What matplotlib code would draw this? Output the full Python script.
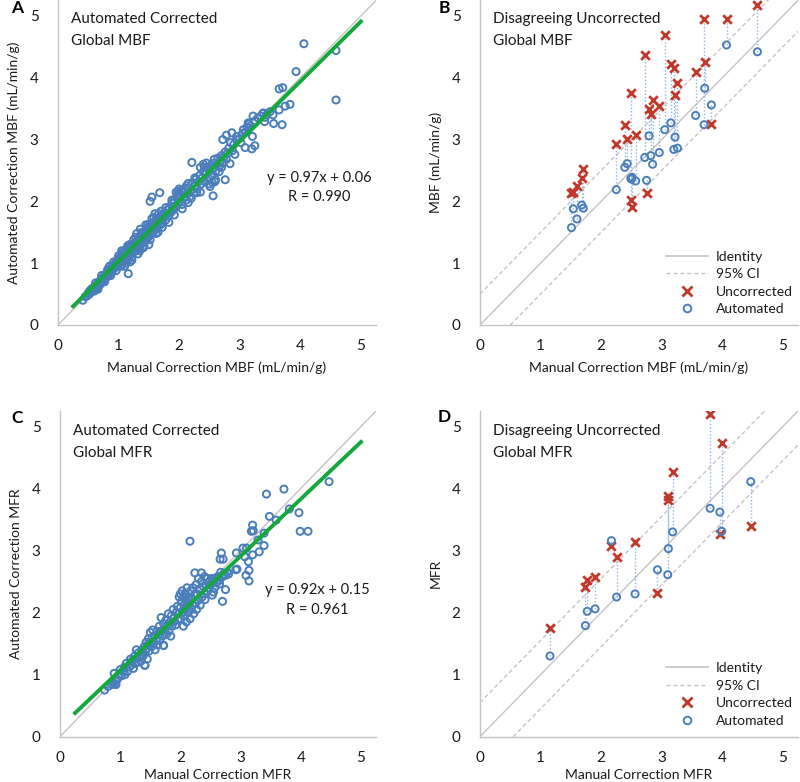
import matplotlib
matplotlib.use('Agg')
import matplotlib.pyplot as plt
from matplotlib.lines import Line2D

plt.rcParams['font.family'] = ['Lato', 'DejaVu Sans']

# panel A: automated vs manual global MBF
mbf_manual = [0.41, 0.45, 0.48, 0.50, 0.52, 0.53, 0.55, 0.56, 0.58, 0.60, 0.60, 0.62, 0.63, 0.65, 0.66,
              0.68, 0.69, 0.70, 0.71, 0.72, 0.74, 0.75, 0.76, 0.78, 0.79, 0.80, 0.81, 0.83, 0.84, 0.85,
              0.86, 0.88, 0.89, 0.90, 0.91, 0.92, 0.93, 0.95, 0.96, 0.97, 0.98, 0.99, 1.00, 1.01, 1.02,
              1.03, 1.04, 1.05, 1.06, 1.07, 1.08, 1.09, 1.10, 1.11, 1.12, 1.13, 1.14, 1.15, 1.16, 1.17,
              1.18, 1.19, 1.20, 1.21, 1.22, 1.23, 1.24, 1.25, 1.26, 1.27, 1.28, 1.29, 1.30, 1.31, 1.32,
              1.33, 1.34, 1.35, 1.36, 1.37, 1.38, 1.39, 1.40, 1.41, 1.42, 1.43, 1.44, 1.45, 1.46, 1.47,
              1.48, 1.49, 1.50, 1.51, 1.52, 1.53, 1.54, 1.55, 1.56, 1.57, 1.58, 1.60, 1.61, 1.62, 1.63,
              1.64, 1.65, 1.66, 1.68, 1.69, 1.70, 1.72, 1.73, 1.75, 1.76, 1.78, 1.79, 1.80, 1.41, 1.35,
              1.25, 1.15, 1.30, 1.45, 1.55, 1.60, 1.70,
              1.82, 1.84, 1.86, 1.88, 1.90, 1.92, 1.94, 1.96, 1.98, 2.00, 2.02, 2.04, 2.05, 2.07, 2.08,
              2.10, 2.12, 2.14, 2.16, 2.18, 2.20, 2.22, 2.24, 2.26, 2.28, 2.30, 2.32, 2.34, 2.36, 2.38,
              2.40, 2.42, 2.44, 2.46, 2.48, 2.50, 2.52, 2.54, 2.56, 2.58, 2.60, 2.62, 2.64, 2.66, 2.68,
              2.70, 2.72, 2.74, 2.76, 2.78, 2.80, 2.40, 2.45, 2.35, 2.55, 2.60, 2.00, 1.95, 2.15, 2.70,
              2.82, 2.85, 2.88, 2.90, 2.95, 3.00, 3.02, 3.05, 3.10, 3.12, 3.15, 3.18, 3.25, 3.30, 3.35,
              3.38, 3.42, 3.45, 3.50,
              4.06, 4.59, 4.59, 3.93, 3.65, 3.71, 3.75, 3.83, 3.70, 3.56, 3.65, 3.55, 3.39, 3.41, 3.22,
              3.14, 3.06, 3.21, 3.25, 3.20, 3.09, 2.87, 2.78, 2.72, 2.95, 2.92, 2.84, 2.76, 2.56, 2.59,
              2.21, 2.51, 2.15, 2.29, 2.10, 1.93, 1.68, 1.52, 1.55, 1.63, 1.16, 1.19]
mbf_auto = [0.40, 0.46, 0.47, 0.52, 0.50, 0.56, 0.54, 0.59, 0.57, 0.60, 0.55, 0.63, 0.58, 0.66, 0.62,
            0.70, 0.65, 0.72, 0.68, 0.75, 0.71, 0.78, 0.74, 0.80, 0.76, 0.84, 0.79, 0.86, 0.81, 0.90,
            0.85, 0.92, 0.87, 0.95, 0.90, 0.97, 0.92, 1.00, 0.94, 1.02, 0.97, 1.05, 0.99, 1.07, 1.01,
            1.10, 1.04, 0.98, 1.12, 1.06, 1.15, 1.03, 1.10, 1.18, 1.08, 1.13, 1.22, 1.05, 1.16, 1.25,
            1.12, 1.20, 1.15, 1.28, 1.10, 1.22, 1.30, 1.18, 1.25, 1.33, 1.20, 1.28, 1.36, 1.22, 1.31,
            1.40, 1.27, 1.35, 1.42, 1.30, 1.38, 1.46, 1.33, 1.42, 1.50, 1.36, 1.45, 1.53, 1.38, 1.47,
            1.56, 1.42, 1.50, 1.60, 1.46, 1.53, 1.62, 1.48, 1.57, 1.66, 1.52, 1.60, 1.68, 1.55, 1.64,
            1.72, 1.58, 1.66, 1.75, 1.62, 1.70, 1.78, 1.65, 1.74, 1.82, 1.70, 1.79, 1.86, 1.25, 1.20,
            1.38, 1.28, 1.48, 1.62, 1.72, 1.80, 1.84,
            1.76, 1.90, 1.82, 1.97, 1.86, 2.02, 1.90, 2.08, 1.96, 2.12, 2.00, 2.18, 1.95, 2.15, 2.05,
            2.20, 2.02, 2.12, 2.22, 2.08, 2.18, 2.30, 2.14, 2.25, 2.36, 2.20, 2.32, 2.42, 2.28, 2.38,
            2.48, 2.32, 2.44, 2.55, 2.38, 2.50, 2.58, 2.42, 2.54, 2.62, 2.48, 2.60, 2.70, 2.56, 2.66,
            2.74, 2.62, 2.72, 2.80, 2.68, 2.78, 2.60, 2.62, 2.55, 2.30, 2.35, 2.20, 2.15, 1.98, 2.55,
            2.86, 2.95, 2.82, 2.92, 3.00, 3.02, 2.95, 3.10, 3.12, 3.20, 3.25, 3.22, 3.30, 3.35, 3.38,
            3.42, 3.36, 3.40, 3.45,
            4.55, 4.44, 3.64, 4.10, 3.82, 3.84, 3.54, 3.57, 3.24, 3.26, 3.48, 3.40, 3.43, 3.29, 3.38,
            3.27, 3.16, 3.05, 2.90, 2.85, 2.87, 3.11, 3.07, 3.00, 3.05, 2.76, 2.61, 2.35, 2.09, 2.32,
            2.63, 2.24, 2.29, 2.14, 2.08, 1.92, 2.14, 2.00, 2.07, 1.58, 0.83, 1.02]
# extra points that thicken the dense band in panel A
mbf_manual_band = [0.62, 0.66, 0.72, 0.77, 0.82, 0.87, 0.92, 0.96, 1.00, 1.04, 1.08, 1.12, 1.18, 1.22,
                   1.28, 1.32, 1.38, 1.42, 1.48, 1.52, 1.58, 1.62, 1.66, 1.72, 1.78, 1.83, 1.88, 1.92,
                   1.98, 2.05, 2.12, 2.20, 2.26, 2.35, 2.42, 2.50, 2.58, 2.66, 1.05, 1.10, 0.85, 1.36,
                   1.50, 1.65]
mbf_auto_band = [0.68, 0.58, 0.80, 0.70, 0.90, 0.80, 1.02, 0.88, 1.12, 0.95, 1.20, 1.00, 1.30, 1.05,
                 1.42, 1.15, 1.50, 1.28, 1.62, 1.38, 1.74, 1.48, 1.80, 1.58, 1.90, 1.66, 2.02, 1.78,
                 2.16, 1.88, 2.25, 2.05, 2.38, 2.15, 2.55, 2.28, 2.68, 2.48, 1.20, 0.95, 0.95, 1.55,
                 1.30, 1.50]

# panel B: disagreeing uncorrected MBF
b_manual = [1.51, 1.54, 1.60, 1.68, 1.705, 2.25, 2.39, 2.43, 2.49, 2.50, 2.51, 2.57, 2.72, 2.75,
            2.79, 2.82, 2.85, 2.96, 3.05, 3.15, 3.20, 3.22, 3.26, 3.56, 3.70, 3.71, 3.82, 4.07, 4.58]
b_uncorr = [2.13, 2.15, 2.25, 2.38, 2.52, 2.93, 3.24, 3.01, 3.75, 2.02, 1.91, 3.08, 4.37, 2.13,
            3.49, 3.41, 3.64, 3.54, 4.69, 4.22, 4.16, 3.72, 3.91, 4.10, 4.95, 4.26, 3.25, 4.95, 5.18]
b_auto = [1.575, 1.88, 1.715, 1.94, 1.89, 2.19, 2.55, 2.61, 2.37, 2.36, 2.39, 2.33, 2.71, 2.34,
          3.06, 2.74, 2.60, 2.79, 3.16, 3.27, 2.84, 3.04, 2.86, 3.39, 3.24, 3.83, 3.56, 4.53, 4.42]

# panel C: automated vs manual global MFR
mfr_manual = [0.74, 0.80, 0.86, 0.88, 0.90, 0.92, 0.93, 0.90, 0.95, 0.98, 1.00, 1.02, 1.05, 1.07, 1.08,
              1.10, 1.12, 1.15, 1.17, 1.18, 1.20, 1.22, 1.24, 1.25, 1.27, 1.28, 1.30, 1.30, 1.32, 1.34,
              1.35, 1.36, 1.38, 1.40, 1.41, 1.42, 1.43, 1.44, 1.45, 1.46, 1.47, 1.48, 1.50, 1.50, 1.52,
              1.53, 1.54, 1.55, 1.57, 1.58, 1.60, 1.61, 1.62, 1.64, 1.65, 1.66, 1.68, 1.68, 1.70, 1.72,
              1.72, 1.74, 1.76, 1.77, 1.79, 1.80, 1.81, 1.83, 1.84, 1.85, 1.86, 1.88, 1.89, 1.90, 1.92,
              1.93, 1.95, 1.96, 1.98, 1.98, 2.00, 2.00, 2.01, 2.02, 2.03, 2.04, 2.05, 2.05, 2.06, 2.07,
              2.08, 2.08, 2.10, 2.10, 2.11, 2.12, 2.13, 2.14, 2.15, 2.16, 2.17, 2.18, 2.19, 2.20, 2.21,
              2.22, 2.23, 2.25, 2.26, 2.27, 2.28, 2.30, 2.30, 2.32, 2.33, 2.35, 2.36, 2.38, 2.40, 2.40,
              2.42, 2.44, 2.45, 2.47, 2.48, 2.50, 2.52, 2.53, 2.55, 2.57, 2.58, 2.60, 2.62, 2.65, 2.67,
              2.70, 2.72, 2.75, 2.78, 2.80,
              4.47, 3.72, 3.43, 3.48, 3.81, 3.97, 3.59, 3.99, 4.12, 3.20, 3.18, 3.21, 3.39, 3.29, 3.39,
              3.31, 3.20, 3.10, 3.04, 3.07, 3.13, 3.14, 3.09, 3.14, 2.93, 2.94, 2.92, 2.68, 2.66, 2.71,
              2.16, 2.24, 2.35, 2.70, 2.75, 2.55, 2.41, 2.65, 1.72, 1.41]
mfr_auto = [0.75, 0.81, 0.84, 0.88, 0.85, 0.90, 0.84, 1.02, 0.92, 1.00, 1.08, 0.98, 1.05, 1.12, 1.00,
            1.18, 1.05, 1.12, 1.25, 1.15, 1.22, 1.10, 1.30, 1.18, 1.40, 1.25, 1.35, 1.20, 1.28, 1.32,
            1.22, 1.40, 1.30, 1.45, 1.15, 1.38, 1.52, 1.42, 1.25, 1.48, 1.58, 1.38, 1.52, 1.68, 1.45,
            1.60, 1.72, 1.50, 1.62, 1.40, 1.55, 1.70, 1.48, 1.65, 1.78, 1.55, 1.70, 1.92, 1.62, 1.47,
            1.82, 1.72, 1.88, 1.65, 1.80, 1.98, 1.70, 1.85, 1.62, 1.95, 1.78, 2.05, 1.85, 1.92, 1.80,
            2.00, 2.10, 1.88, 2.25, 1.98, 2.30, 2.08, 1.90, 2.18, 2.35, 2.00, 1.78, 2.25, 2.12, 1.95,
            2.30, 2.05, 2.20, 1.85, 2.40, 2.10, 2.00, 2.25, 2.15, 1.90, 2.35, 2.05, 2.22, 2.12, 2.40,
            1.98, 2.28, 2.15, 2.45, 2.05, 2.30, 2.20, 2.55, 2.38, 2.12, 2.50, 2.25, 2.42, 2.30, 2.58,
            2.45, 2.35, 2.55, 2.40, 2.50, 2.45, 2.55, 2.28, 2.50, 2.40, 2.55, 2.48, 2.58, 2.52, 2.65,
            2.58, 2.62, 2.60, 2.65, 2.62,
            4.11, 3.99, 3.91, 3.55, 3.67, 3.61, 3.49, 3.31, 3.31, 3.41, 3.31, 3.32, 3.28, 3.17, 3.08,
            2.98, 2.93, 3.04, 3.04, 2.90, 2.82, 2.68, 2.60, 2.51, 2.96, 2.70, 2.69, 2.96, 2.86, 2.86,
            3.15, 2.64, 2.64, 2.18, 2.37, 2.33, 2.21, 2.46, 1.47, 1.15]

# panel D: disagreeing uncorrected MFR
d_manual = [1.155, 1.74, 1.77, 1.90, 2.17, 2.255, 2.56, 2.93, 3.10, 3.11, 3.18, 3.80, 3.96, 3.99, 4.47]
d_uncorr = [1.75, 2.42, 2.53, 2.57, 3.08, 2.89, 3.13, 2.31, 3.82, 3.88, 4.27, 5.20, 3.26, 4.73, 3.40]
d_auto = [1.30, 1.79, 2.02, 2.06, 3.16, 2.25, 2.30, 2.69, 2.61, 3.03, 3.30, 3.68, 3.62, 3.31, 4.11]

fit_x = [0.25, 5.0]
ticks = [0, 1, 2, 3, 4, 5]

BLUE = '#4a7ebb'
RED = '#c0392b'
GREEN = '#14a83c'
GRAY = '#c4c4c4'
DOT = '#8eb4e3'
TXT = '#1a1a1a'

fig = plt.figure(figsize=(8, 7.82), dpi=100)
axA = fig.add_axes([0.0725, 0.5844, 0.3975, 0.4150])
axB = fig.add_axes([0.6, 0.5844, 0.3975, 0.4150])
axC = fig.add_axes([0.075, 0.058, 0.395, 0.4165])
axD = fig.add_axes([0.6, 0.058, 0.3975, 0.4165])


def style(ax):
    ax.set_xlim(0, 5.25)
    ax.set_ylim(0, 5.25)
    ax.set_xticks(ticks)
    ax.set_yticks(ticks)
    ax.tick_params(length=0, labelsize=11, colors=TXT)
    ax.tick_params(axis='x', pad=10)
    ax.tick_params(axis='y', pad=14)
    for s in ['top', 'right']:
        ax.spines[s].set_visible(False)
    for s in ['left', 'bottom']:
        ax.spines[s].set_color(GRAY)
        ax.spines[s].set_linewidth(1.0)
    ax.plot([0, 5.25], [0, 5.25], color=GRAY, lw=1.0, zorder=1)


def titles(ax, first, second, x, y1, y2):
    ax.text(x, y1, first, transform=ax.transAxes, fontsize=11, va='center', color=TXT)
    ax.text(x, y2, second, transform=ax.transAxes, fontsize=11, va='center', color=TXT)


# A
style(axA)
axA.scatter(mbf_manual, mbf_auto, s=26, facecolors='none', edgecolors=BLUE, linewidths=1.4, zorder=2)
axA.scatter(mbf_manual_band, mbf_auto_band, s=26, facecolors='none', edgecolors=BLUE, linewidths=1.4, zorder=2)
axA.plot(fit_x, [0.97 * x + 0.06 for x in fit_x], color=GREEN, lw=2.8, zorder=3)
titles(axA, 'Automated Corrected', 'Global MBF', 0.041, 0.9415, 0.874)
axA.text(4.31, 2.38, 'y = 0.97x + 0.06', fontsize=10.5, ha='center', va='center', color=TXT)
axA.text(4.31, 2.07, 'R = 0.990', fontsize=10.5, ha='center', va='center', color=TXT)
axA.set_xlabel('Manual Correction MBF (mL/min/g)', fontsize=10, labelpad=6, color=TXT)
axA.set_ylabel('Automated Correction MBF (mL/min/g)', fontsize=10, labelpad=7, color=TXT)


def disagree(ax, xs, unc, auto, ci, title, ylabel, xlabel, y1, y2, xpad):
    style(ax)
    ax.plot([0, 5.25], [ci, 5.25 + ci], color=GRAY, lw=1.0, ls=(0, (3, 2)), zorder=1)
    ax.plot([ci, 5.25], [0, 5.25 - ci], color=GRAY, lw=1.0, ls=(0, (3, 2)), zorder=1)
    ax.vlines(xs, auto, unc, colors=DOT, lw=1.0, linestyles=(0, (1, 1.5)), zorder=2)
    ax.scatter(xs, unc, s=38, marker='x', color=RED, linewidths=2.0, zorder=3)
    ax.scatter(xs, auto, s=26, facecolors='none', edgecolors=BLUE, linewidths=1.4, zorder=4)
    titles(ax, 'Disagreeing Uncorrected', title, 0.041, y1, y2)
    ax.set_xlabel(xlabel, fontsize=10, labelpad=xpad, color=TXT)
    ax.set_ylabel(ylabel, fontsize=10, labelpad=7, color=TXT)
    handles = [Line2D([], [], color=GRAY, lw=1.2),
               Line2D([], [], color=GRAY, lw=1.0, ls=(0, (3, 2))),
               Line2D([], [], color=RED, marker='x', ls='none', ms=7, mew=2.0),
               Line2D([], [], color=BLUE, marker='o', ls='none', ms=5.5, mfc='none', mew=1.4)]
    leg = ax.legend(handles, ['Identity', '95% CI', 'Uncorrected', 'Automated'], loc='lower right',
                    bbox_to_anchor=(0.985, 0.03), frameon=False, fontsize=10, handlelength=3.0,
                    labelspacing=0.4, handletextpad=0.6, borderpad=0, borderaxespad=0)
    for t in leg.get_texts():
        t.set_color(TXT)


disagree(axB, b_manual, b_uncorr, b_auto, 0.5, 'Global MBF', 'MBF (mL/min/g)',
         'Manual Correction MBF (mL/min/g)', 0.9415, 0.874, 6)

# C
style(axC)
axC.scatter(mfr_manual, mfr_auto, s=26, facecolors='none', edgecolors=BLUE, linewidths=1.4, zorder=2)
axC.plot(fit_x, [0.92 * x + 0.15 for x in fit_x], color=GREEN, lw=2.8, zorder=3)
titles(axC, 'Automated Corrected', 'Global MFR', 0.041, 0.9386, 0.871)
axC.text(4.27, 2.37, 'y = 0.92x + 0.15', fontsize=10.5, ha='center', va='center', color=TXT)
axC.text(4.27, 2.04, 'R = 0.961', fontsize=10.5, ha='center', va='center', color=TXT)
axC.set_xlabel('Manual Correction MFR', fontsize=10, labelpad=3, color=TXT)
axC.set_ylabel('Automated Correction MFR', fontsize=10, labelpad=7, color=TXT)

disagree(axD, d_manual, d_uncorr, d_auto, 0.55, 'Global MFR', 'MFR', 'Manual Correction MFR',
         0.9386, 0.871, 3)

for lbl, x, y in [('A', 17, 8), ('B', 444, 8), ('C', 17, 418), ('D', 444, 417)]:
    fig.text(x / 800, 1 - y / 782, lbl, fontsize=12.5, fontweight='bold', va='center', ha='center')

fig.savefig('out.png', dpi=100)
